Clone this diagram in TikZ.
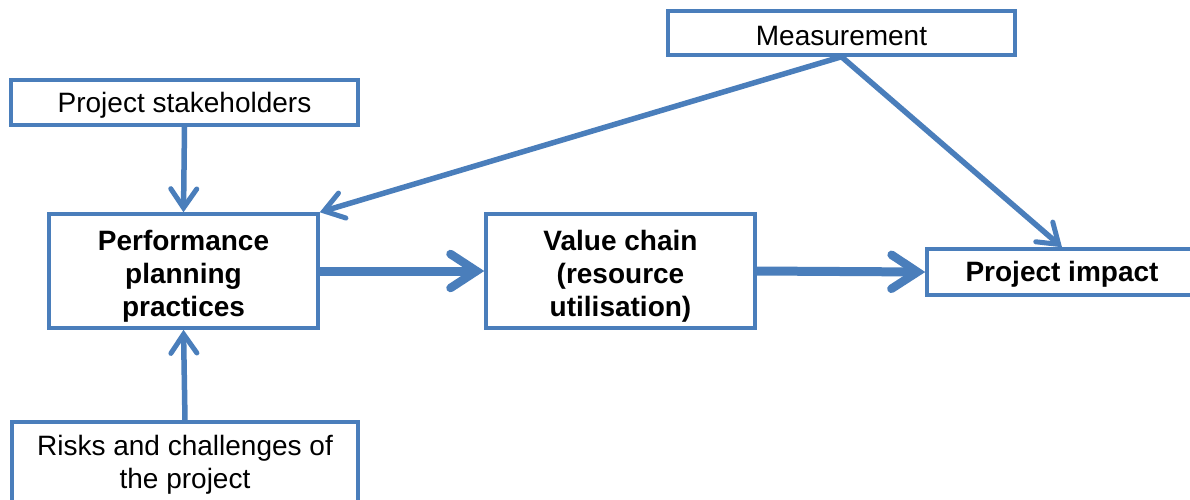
\documentclass[tikz,border=0pt]{standalone}
\usepackage{fontspec}
\setmainfont{Liberation Sans}
\usetikzlibrary{arrows.meta}
\definecolor{flow}{HTML}{4A7EBB}
% invisible strut that sets the height of a first text line
\newcommand\lineup[1]{\rule{0pt}{#1pt}}
\begin{document}
\begin{tikzpicture}[x=1pt,y=-1pt,
  box/.style={draw=flow,line width=3.5pt,fill=white,inner sep=0pt,align=center,
    font=\fontsize{28}{33}\selectfont},
  keybox/.style={box,font=\fontsize{28}{33}\selectfont\bfseries},
  thin/.style={draw=flow,line width=5.5pt,
    -{Straight Barb[length=19pt,width=26pt,line width=5pt,line cap=round]}},
  thick/.style={draw=flow,line width=9pt,
    -{Straight Barb[length=26pt,width=34pt,line width=8.5pt,line cap=round]}}]
\useasboundingbox (0,0) rectangle (1190,499);
\clip (0,0) rectangle (1190,499);
\fill[white] (0,0) rectangle (1190,499);
% boxes
\node[box,minimum width=347pt,minimum height=44pt] (meas) at (841.5,33) {\lineup{25}Measurement};
\node[box,minimum width=347pt,minimum height=45pt] (stake) at (184.5,102.5) {\lineup{25}Project stakeholders};
\node[keybox,minimum width=269pt,minimum height=114pt] (perf) at (183.5,271) {\lineup{30}Performance\\planning\\practices};
\node[keybox,minimum width=269pt,minimum height=114pt] (value) at (620.5,271) {\lineup{30}Value chain\\(resource\\utilisation)};
\node[keybox,minimum width=270pt,minimum height=46pt] (impact) at (1062,272) {\lineup{25}Project impact};
\node[box,minimum width=346pt,minimum height=80pt] (risk) at (185,462) {\lineup{25}Risks and challenges of\\the project};
% connectors
\draw[thin] (stake.south) -- (perf.north);
\draw[thin] (risk.north) -- (perf.south);
\draw[thin] (meas.south) -- (perf.north east);
\draw[thin] (meas.south) -- (impact.north);
\draw[thick] (perf.east) -- (value.west);
\draw[thick] (value.east) -- (impact.west);
\end{tikzpicture}
\end{document}
